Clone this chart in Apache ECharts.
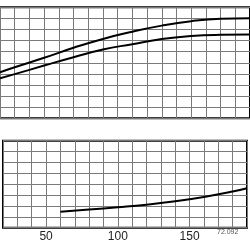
<!DOCTYPE html>
<html>
<head>
<meta charset="utf-8">
<script src="https://cdn.jsdelivr.net/npm/echarts@6/dist/echarts.min.js"></script>
<style>html,body{margin:0;padding:0;background:#fff;}#c{width:250px;height:250px;}</style>
</head>
<body>
<div id="c"></div>
<script>
// Top panel curves (x, y)
var upperX = [20, 30, 50, 70, 90, 110, 130, 150, 170, 190];
var upperY = [4.15, 4.6, 5.45, 6.35, 7.15, 7.8, 8.35, 8.75, 8.97, 9.02];
var lowerX = [20, 30, 50, 70, 90, 110, 130, 150, 170, 190];
var lowerY = [3.6, 3.98, 4.75, 5.5, 6.2, 6.68, 7.15, 7.42, 7.52, 7.54];
// Bottom panel curve
var bottomX = [60, 80, 100, 120, 140, 160, 180, 190];
var bottomY = [1.47, 1.67, 1.88, 2.12, 2.43, 2.83, 3.32, 3.62];
var xTickLabels = [50, 100, 150];
var noteText = '72.092';

function pairs(xs, ys) { return xs.map(function (x, i) { return [x, ys[i]]; }); }

var chart = echarts.init(document.getElementById('c'), null, {renderer: 'canvas'});
var gridLine = {show: true, lineStyle: {color: '#7a7a7a', width: 1}};
function xAx(idx, showLabels) {
  return {
    type: 'value', gridIndex: idx, min: 20, max: 190, interval: 10,
    axisLine: {show: false}, axisTick: {show: false},
    splitLine: gridLine,
    axisLabel: {
      show: showLabels, margin: 3, fontSize: 12, color: '#222',
      fontFamily: 'Liberation Sans, Arial, sans-serif',
      formatter: function (v) { return xTickLabels.indexOf(v) >= 0 ? String(v) : ''; }
    }
  };
}
function yAx(idx, max) {
  return {
    type: 'value', gridIndex: idx, min: 0, max: max, interval: 1,
    axisLine: {show: false}, axisTick: {show: false}, axisLabel: {show: false},
    splitLine: gridLine
  };
}
var lineStyle = {color: '#000', width: 2};
chart.setOption({
  animation: false,
  grid: [
    {left: -11.5, width: 265.2, top: 7.3, height: 111, show: true, borderColor: '#000', borderWidth: 2},
    {left: -11.5, width: 265.2, top: 140.7, height: 87, show: true, borderColor: '#000', borderWidth: 2}
  ],
  xAxis: [xAx(0, false), xAx(1, true)],
  yAxis: [yAx(0, 10), yAx(1, 8)],
  series: [
    {type: 'line', xAxisIndex: 0, yAxisIndex: 0, data: pairs(upperX, upperY), smooth: 0.5, showSymbol: false, symbol: 'none', lineStyle: lineStyle},
    {type: 'line', xAxisIndex: 0, yAxisIndex: 0, data: pairs(lowerX, lowerY), smooth: 0.5, showSymbol: false, symbol: 'none', lineStyle: lineStyle},
    {type: 'line', xAxisIndex: 1, yAxisIndex: 1, data: pairs(bottomX, bottomY), smooth: 0.5, showSymbol: false, symbol: 'none', lineStyle: lineStyle}
  ],
  graphic: [
    {type: 'text', left: 217, top: 229, style: {text: noteText, fontSize: 7, fill: '#555', fontFamily: 'Liberation Sans, Arial, sans-serif'}}
  ]
});
</script>
</body>
</html>
